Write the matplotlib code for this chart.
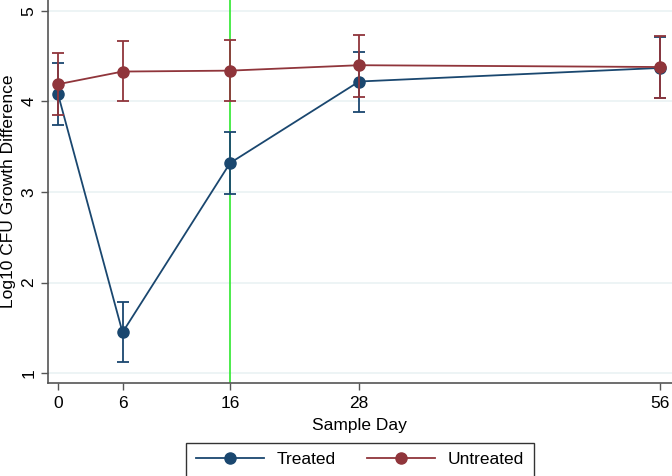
import matplotlib
matplotlib.use('Agg')
import matplotlib.pyplot as plt

plt.rcParams['font.family'] = ['Liberation Sans', 'DejaVu Sans']

days = [0, 6, 16, 28, 56]
day_labels = ['0', '6', '16', '28', '56']

treated = [4.08, 1.45, 3.32, 4.22, 4.37]
treated_lo = [3.74, 1.12, 2.98, 3.88, 4.04]
treated_hi = [4.42, 1.79, 3.66, 4.55, 4.71]

untreated = [4.19, 4.33, 4.34, 4.40, 4.38]
untreated_lo = [3.85, 4.00, 4.01, 4.05, 4.04]
untreated_hi = [4.53, 4.67, 4.68, 4.73, 4.72]

marker_day = 16
y_ticks = [1, 2, 3, 4, 5]

navy = '#1a476f'
maroon = '#90353b'

fig = plt.figure(figsize=(6.72, 4.76), dpi=100)
fig.patch.set_facecolor('white')
ax = fig.add_axes([0.071, 0.195, 0.929, 0.805])

for y in y_ticks:
    ax.axhline(y, color='#eaf2f3', linewidth=1.2, zorder=0)

ax.axvline(marker_day, color='#2ee82e', linewidth=1.2, zorder=1)

series = [
    ('Treated', treated, treated_lo, treated_hi, navy),
    ('Untreated', untreated, untreated_lo, untreated_hi, maroon),
]
handles = []
for i, (name, vals, lo, hi, col) in enumerate(series):
    yerr = [[v - l for v, l in zip(vals, lo)], [h - v for v, h in zip(vals, hi)]]
    ax.errorbar(days, vals, yerr=yerr, fmt='none', ecolor=col, elinewidth=1.3,
                capsize=4, capthick=1.3, zorder=2 + i * 2)
    h, = ax.plot(days, vals, color=col, linewidth=1.3, marker='o', markersize=8,
                 markerfacecolor=col, markeredgecolor=col, zorder=3 + i * 2, label=name)
    handles.append(h)

ax.set_xlim(-0.96, 57.1)
ax.set_ylim(0.889, 5.12)
ax.set_xticks(days)
ax.set_xticklabels(day_labels)
ax.set_yticks(y_ticks)
ax.set_yticklabels([str(y) for y in y_ticks], rotation=90, va='center')

for s in ['top', 'right']:
    ax.spines[s].set_visible(False)
for s in ['left', 'bottom']:
    ax.spines[s].set_color('#555555')
    ax.spines[s].set_linewidth(1.2)

ax.tick_params(axis='both', colors='#555555', labelcolor='black', labelsize=12.5,
               length=5, width=1)
ax.tick_params(axis='x', pad=4)
ax.tick_params(axis='y', pad=3)

ax.set_xlabel('Sample Day', fontsize=12.5, labelpad=5)
ax.set_ylabel('Log10 CFU Growth Difference', fontsize=12.5, labelpad=4)

leg = fig.legend(handles=handles, loc='upper center', bbox_to_anchor=(360 / 672, 0.07),
                 ncol=2, fontsize=12.5, frameon=True, fancybox=False, handlelength=3.9,
                 handletextpad=0.75, columnspacing=1.8, borderpad=0.55, borderaxespad=0)
leg.get_frame().set_edgecolor('black')
leg.get_frame().set_linewidth(1.0)

fig.savefig('out.png', dpi=100, facecolor='white')
